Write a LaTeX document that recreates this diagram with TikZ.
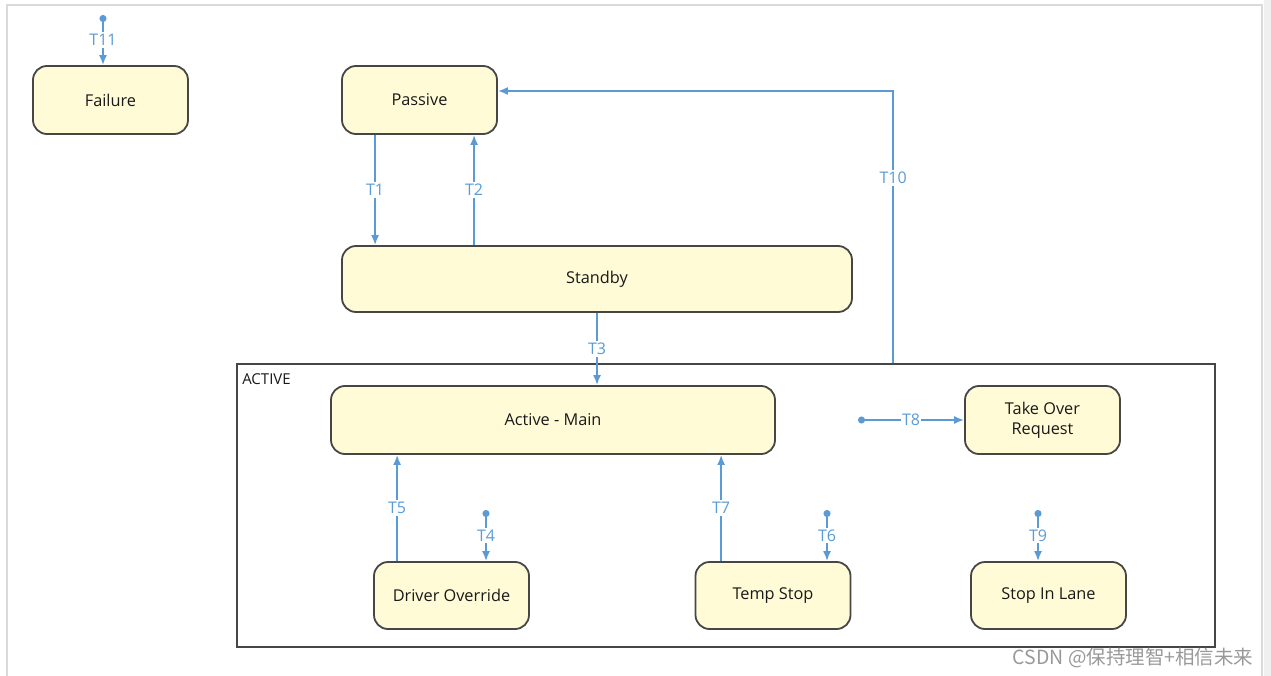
\documentclass[tikz,border=0pt]{standalone}
\usepackage{fontspec}
\setmainfont{Open Sans}
\newfontfamily\cjkfont{Noto Sans CJK SC}
\usetikzlibrary{arrows.meta, positioning}
\definecolor{stateborder}{RGB}{70, 70, 70}
\definecolor{statefill}{RGB}{255, 251, 214}
\definecolor{transblue}{RGB}{91, 155, 213}
\definecolor{framegray}{RGB}{218, 218, 218}
\tikzstyle{state} = [draw=stateborder, fill=statefill, line width=1.8pt, rounded corners=14pt, minimum width=155pt, minimum height=68pt, align=center, text=black!90, font=\fontsize{16.3}{20}\selectfont]
\tikzstyle{trans} = [draw, -{Latex[length=10pt, width=8pt]}, line width=1.7pt, transblue]
\tikzstyle{initial} = [draw, {Circle[length=7pt]}-{Latex[length=10pt, width=8pt]}, line width=1.7pt, transblue]
\tikzstyle{tlabel} = [fill=white, text=transblue, inner sep=2pt, font=\fontsize{16}{19}\selectfont]

\begin{document}
\begin{tikzpicture}[x=1pt, y=-1pt]
    \useasboundingbox (0,0) rectangle (1271,676);
    % frame of the screenshot
    \fill[gray!12] (1264,0) rectangle (1271,676);
    \draw[framegray, line width=2pt] (7,676) -- (7,5) -- (1262,5) -- (1262,676);

    % composite state
    \node (active) [draw=stateborder, line width=1.8pt, minimum width=978pt, minimum height=283pt] at (726,505.5) {};
    \node (activelbl) [anchor=north west, inner sep=0pt, text=black!90, font=\fontsize{15}{17}\selectfont] at ([xshift=6pt, yshift=-10pt]active.north west) {ACTIVE};

    % states
    \node (failure) [state] at (110.5,100) {Failure};
    \node (passive) [state] at (419.5,100) {Passive};
    \node (standby) [state, minimum width=510pt, minimum height=66pt] at (597,279) {Standby};
    \node (main) [state, minimum width=444pt] at (553,420) {Active - Main};
    \node (takeover) [state] at (1042.5,420) {Take Over\\Request};
    \node (override) [state, minimum height=67pt] at (451.5,595.5) {Driver Override};
    \node (tempstop) [state, minimum height=67pt] at (773,595.5) {Temp Stop};
    \node (stoplane) [state, minimum height=67pt] at (1048.5,595.5) {Stop In Lane};

    % initial points
    \coordinate (t11dot) at (103,15);
    \coordinate (t8dot) at (858,420);
    \coordinate (t4dot) at (486,510);
    \coordinate (t6dot) at (827,510);
    \coordinate (t9dot) at (1038,510);

    % transitions
    \draw [initial] (t11dot) -- node[tlabel] {T11} (t11dot |- failure.north);
    \draw [trans] ([xshift=34pt]passive.south west) -- node[tlabel] {T1} ([xshift=34pt]standby.north west);
    \draw [trans] ([xshift=133pt]standby.north west) -- node[tlabel] {T2} ([xshift=133pt]passive.south west);
    \draw [trans] (standby.south) -- node[tlabel] {T3} (standby.south |- main.north);
    \draw [trans] ([xshift=657pt]active.north west) |- node[tlabel, pos=0.34] {T10} ([yshift=9pt]passive.east);
    \draw [initial] (t8dot) -- node[tlabel, inner sep=1pt] {T8} (takeover.west);
    \draw [trans] ([xshift=24pt]override.north west) -- node[tlabel] {T5} ([xshift=24pt]override.north west |- main.south);
    \draw [initial] (t4dot) -- node[tlabel] {T4} (t4dot |- override.north);
    \draw [trans] ([xshift=26.5pt]tempstop.north west) -- node[tlabel] {T7} ([xshift=26.5pt]tempstop.north west |- main.south);
    \draw [initial] (t6dot) -- node[tlabel] {T6} (t6dot |- tempstop.north);
    \draw [initial] (t9dot) -- node[tlabel] {T9} (t9dot |- stoplane.north);

    % watermark
    \node (mark) [anchor=east, text=black!40, font=\fontsize{19.5}{22}\selectfont] at (1257,658) {\cjkfont CSDN @保持理智+相信未来};
\end{tikzpicture}
\end{document}
